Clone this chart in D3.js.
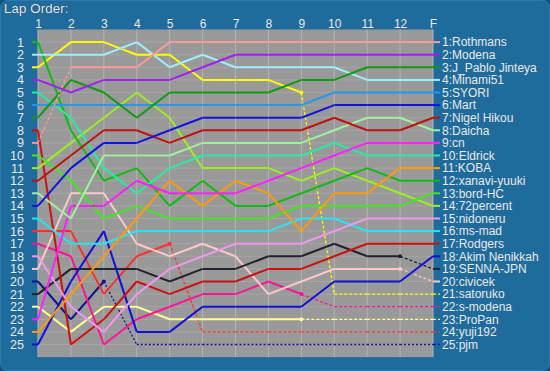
<!DOCTYPE html>
<html>
<head>
<meta charset="utf-8">
<script src="https://cdnjs.cloudflare.com/ajax/libs/d3/7.8.5/d3.min.js"></script>
<style>
  body { margin: 0; background: #15507a; }
  svg { display: block; }
  text { font-family: "Liberation Sans", Arial, sans-serif; fill: #e8e8e8; }
</style>
</head>
<body>
<div id="chart"></div>
<script>
var laps = ["1","2","3","4","5","6","7","8","9","10","11","12","F"];
var positions = d3.range(1, 26);

// drivers in finishing order
var drivers = ["Rothmans","Modena","J_Pablo Jinteya","Minami51","SYORI","Mart","Nigel Hikou","Daicha","cn","Eldrick",
  "KOBA","xanavi-yuuki","bord-HC","72percent","nidoneru","ms-mad","Rodgers","Akim Nenikkah","SENNA-JPN","civicek",
  "satoruko","s-modena","ProPan","yuji192","pjm"];

var colors = ["#ff9a9a","#a020f0","#119a11","#a0eefa","#2298ee","#1414e0","#c01010","#a0f0a0","#ff22ff","#22eea0",
  "#ff9a0a","#10bb10","#44e622","#9aee22","#ee99ee","#22e6f6","#cc1111","#1010d8","#222230","#ffc8c8",
  "#ffff00","#ff1493","#ffff99","#ff3030","#101090"];

// position at each lap (1..12, F)
var ranks = [
  [9,3,3,3,1,1,1,1,1,1,1,1,1],
  [4,5,4,4,4,3,2,2,2,2,2,2,2],
  [7,4,5,7,5,5,5,5,4,4,3,3,3],
  [2,2,2,1,3,2,3,3,3,3,4,4,4],
  [6,6,6,6,6,6,6,6,6,5,5,5,5],
  [14,11,9,9,8,7,7,7,7,6,6,6,6],
  [12,10,8,8,9,8,8,8,8,7,8,8,7],
  [13,15,10,10,10,9,9,9,9,8,7,7,8],
  [23,14,14,12,13,13,13,12,11,10,9,9,9],
  [5,7,11,13,11,10,10,10,10,9,10,10,10],
  [24,21,18,15,12,14,12,13,16,13,13,11,11],
  [1,8,12,11,14,12,14,14,13,12,11,12,12],
  [10,12,15,14,15,15,15,15,14,14,14,14,13],
  [11,9,7,5,7,11,11,11,12,11,12,13,14],
  [18,22,24,21,19,18,17,17,17,16,15,15,15],
  [15,17,17,16,16,16,16,16,15,15,16,16,16],
  [8,25,23,20,21,20,20,19,19,18,17,17,17],
  [25,20,16,24,24,22,22,22,22,20,20,20,18],
  [21,19,19,19,20,19,19,18,18,17,18,18,19],
  [19,13,13,17,18,17,18,21,20,19,19,19,20],
  [3,1,1,2,2,4,4,4,5,21,21,21,21],
  [17,18,25,23,22,21,21,20,21,22,22,22,22],
  [22,24,22,22,23,23,23,23,23,23,23,23,23],
  [16,16,21,18,17,24,24,24,24,24,24,24,24],
  [20,23,20,25,25,25,25,25,25,25,25,25,25]
];

// segment indexes drawn dashed (segment i goes from lap i to lap i+1)
var dashedSegs = [
  [0],[],[],[],[],[],[],[],[],[],
  [],[],[],[],[],[],[],[],[11],[11],
  [8,9,10,11],[8,9,10,11],[8,9,10,11],[4,5,6,7,8,9,10,11],[2,3,4,5,6,7,8,9,10,11]
];
var retired = [20, 21, 22, 23, 24]; // drivers whose tail is dashed to F

var W = 550, H = 371;
var svg = d3.select("#chart").append("svg")
  .attr("width", W).attr("height", H);

svg.append("rect")
  .attr("x", 0.5).attr("y", 0.5).attr("width", W - 1).attr("height", H - 1)
  .attr("rx", 7)
  .attr("fill", "#1f6c9c")
  .attr("stroke", "#2a7cb0");

var x = d3.scalePoint().domain(laps).range([38, 433]);
var y = d3.scalePoint().domain(positions).range([42.1, 344.5]);
var plotTop = 29.5, plotBottom = 357.1;

// plot background
svg.append("rect")
  .attr("x", 38).attr("y", plotTop)
  .attr("width", 433 - 38).attr("height", plotBottom - plotTop)
  .attr("fill", "#999999");

// grid
svg.append("g").selectAll("line").data(positions).enter().append("line")
  .attr("x1", 38).attr("x2", 433)
  .attr("y1", function(d){ return y(d); }).attr("y2", function(d){ return y(d); })
  .attr("stroke", "#a6a6a6").attr("stroke-width", 1);
svg.append("g").selectAll("line").data(laps).enter().append("line")
  .attr("x1", function(d){ return x(d); }).attr("x2", function(d){ return x(d); })
  .attr("y1", plotTop).attr("y2", plotBottom)
  .attr("stroke", "#b4b4b4").attr("stroke-width", 1);

// axes
var xAxis = svg.append("g")
  .attr("transform", "translate(0," + plotTop + ")")
  .call(d3.axisTop(x).tickSize(0).tickPadding(2));
var yAxis = svg.append("g")
  .attr("transform", "translate(24,0)")
  .call(d3.axisLeft(y).tickSize(0).tickPadding(0));
xAxis.select(".domain").remove();
yAxis.select(".domain").remove();
xAxis.selectAll("text").style("font-size", "12px").attr("fill", "#e8e8e8");
yAxis.selectAll("text").style("font-size", "12.5px").attr("fill", "#e8e8e8");

// title
svg.append("text").attr("x", 4.8).attr("y", 13.3).text("Lap Order:")
  .style("font-size", "13.5px").style("fill", "#0b3655");
svg.append("text").attr("x", 4).attr("y", 12.5).text("Lap Order:")
  .style("font-size", "13.5px");

var line = d3.line()
  .x(function(d){ return d[0]; })
  .y(function(d){ return d[1]; });

var order = d3.range(drivers.length - 1, -1, -1);
order.forEach(function(i){
  var r = ranks[i];
  var g = svg.append("g");
  var dashed = dashedSegs[i];
  var isRet = retired.indexOf(i) >= 0;

  // left stub
  g.append("path")
    .attr("d", line([[32, y(r[0])], [x(laps[0]), y(r[0])]]))
    .attr("stroke", colors[i]).attr("stroke-width", 2).attr("fill", "none");

  for (var s = 0; s < laps.length - 1; s++) {
    var dash = dashed.indexOf(s) >= 0;
    g.append("path")
      .attr("d", line([[x(laps[s]), y(r[s])], [x(laps[s + 1]), y(r[s + 1])]]))
      .attr("stroke", colors[i])
      .attr("stroke-width", dash ? 1.3 : 2)
      .attr("stroke-dasharray", dash ? (i == 24 ? "2,2" : "3,2") : null)
      .attr("fill", "none");
  }

  // right stub
  var last = laps.length - 1;
  g.append("path")
    .attr("d", line([[x(laps[last]), y(r[last])], [440, y(r[last])]]))
    .attr("stroke", colors[i])
    .attr("stroke-width", isRet ? 1.3 : 2)
    .attr("stroke-dasharray", isRet ? "3,2" : null)
    .attr("fill", "none");

  // marker where the line turns dashed
  if (dashed.length && dashed[0] > 0) {
    var k = dashed[0];
    g.append("circle")
      .attr("cx", x(laps[k])).attr("cy", y(r[k])).attr("r", 2)
      .attr("fill", colors[i]);
  }

  svg.append("text")
    .attr("x", 442).attr("y", y(r[last]))
    .attr("dy", "0.36em")
    .style("font-size", "12px")
    .text((i + 1) + ":" + drivers[i]);
});
</script>
</body>
</html>
